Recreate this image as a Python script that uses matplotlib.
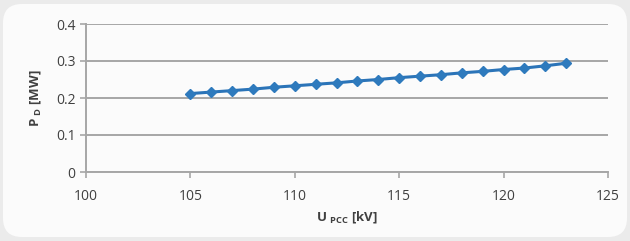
import matplotlib
matplotlib.use("Agg")
import matplotlib.pyplot as plt
from matplotlib.patches import FancyBboxPatch

# data
u_pcc = [105, 106, 107, 108, 109, 110, 111, 112, 113, 114,
         115, 116, 117, 118, 119, 120, 121, 122, 123]
p_d = [0.212, 0.216, 0.220, 0.224, 0.229, 0.233, 0.237, 0.241, 0.246, 0.250,
       0.255, 0.259, 0.263, 0.268, 0.272, 0.277, 0.281, 0.287, 0.294]
x_ticks = [100, 105, 110, 115, 120, 125]
y_ticks = [0, 0.1, 0.2, 0.3, 0.4]
y_labels = ["0", "0.1", "0.2", "0.3", "0.4"]

plt.rcParams['font.family'] = ['Open Sans', 'DejaVu Sans']

fig = plt.figure(figsize=(6.3, 2.41), dpi=100)
fig.patch.set_facecolor('#ebebeb')
# rounded light panel behind the chart
panel = FancyBboxPatch((3 / 630, 4 / 241), 624 / 630, 233 / 241,
                       boxstyle="round,pad=0,rounding_size=0.03",
                       transform=fig.transFigure, facecolor='#fbfbfb',
                       edgecolor='none', mutation_aspect=630 / 241, zorder=-5)
fig.patches.append(panel)

ax = fig.add_axes([86 / 630, 1 - 172 / 241, (608 - 86) / 630, (172 - 24) / 241])
ax.set_zorder(1)
ax.set_facecolor('none')
ax.plot(u_pcc, p_d, color='#2b74b8', lw=2.2, marker='D', markersize=5.5,
        markerfacecolor='#2e7abd', markeredgecolor='#2e7abd', zorder=3,
        clip_on=False)

ax.set_xlim(100, 125)
ax.set_ylim(0, 0.4)
ax.set_xticks(x_ticks)
ax.set_yticks(y_ticks)
ax.set_yticklabels(y_labels)
ax.grid(axis='y', color='#a6a6a6', lw=1.4)
ax.set_axisbelow(True)
for s in ['top', 'right']:
    ax.spines[s].set_visible(False)
for s in ['left', 'bottom']:
    ax.spines[s].set_color('#a6a6a6')
    ax.spines[s].set_linewidth(1.4)
ax.tick_params(colors='#a6a6a6', labelcolor='#404040', labelsize=10,
               length=4, width=1.2)
ax.tick_params(axis='x', pad=8)

ax.set_xlabel(r'U $_{\mathregular{PCC}}$ [kV]', fontsize=9.5, fontweight='bold',
              color='#404040', labelpad=4)
ax.set_ylabel(r'P $_{\mathregular{D}}$ [MW]', fontsize=9.5, fontweight='bold',
              color='#404040', labelpad=9)

fig.savefig('out.png', dpi=100, facecolor=fig.get_facecolor())
